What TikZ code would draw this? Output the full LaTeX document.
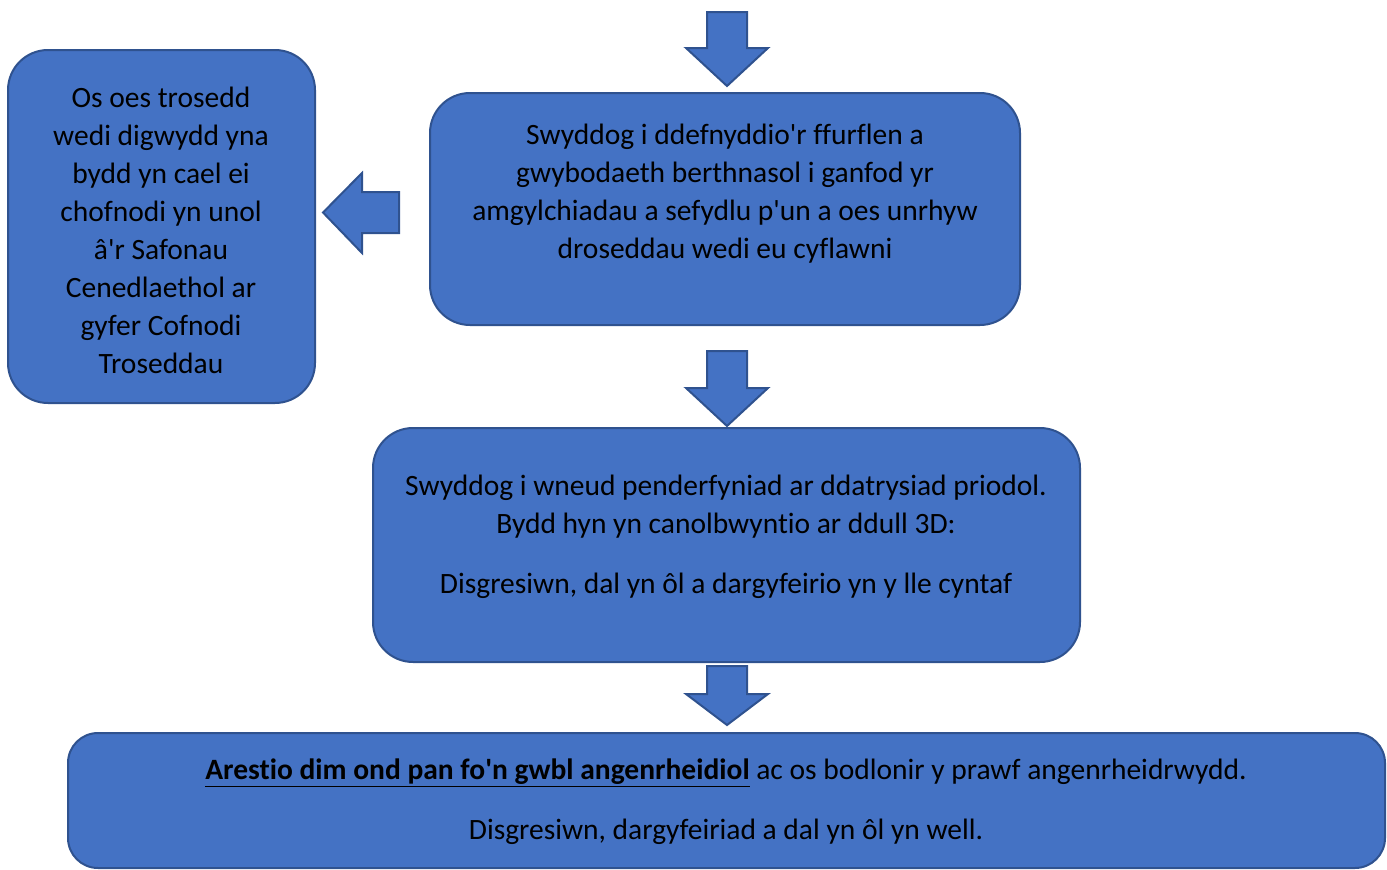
\documentclass[tikz,border=0pt]{standalone}
\usepackage{fontspec}
\setmainfont{Carlito}[Ligatures={NoCommon}]
\usepackage{tikz}

\definecolor{boxfill}{HTML}{4472C4}
\definecolor{boxline}{HTML}{2F528F}
\newcommand{\ap}{\textquotesingle}

\begin{document}
\begin{tikzpicture}
  [x=1pt,y=-1pt,
   flow box/.style={draw=boxline,fill=boxfill,line width=2pt,rounded corners=#1},
   flow box/.default=40pt,
   block arrow/.style={draw=boxline,fill=boxfill,line width=2pt,line join=miter},
   box text/.style={align=center,inner sep=0pt,font=\fontsize{29.5}{38}\selectfont}]

\useasboundingbox (0,0) rectangle (1387,870);

% boxes
\draw[flow box] (430,93) rectangle (1020,325);
\draw[flow box] (8,50) rectangle (315,403);
\draw[flow box] (373,428) rectangle (1080,662);
\draw[flow box=30pt] (68,733) rectangle (1385,868);

% texts
\node[box text] (ffurflen) at (725,194)
  {Swyddog i ddefnyddio\ap r ffurflen a\\ gwybodaeth berthnasol i ganfod yr\\
   amgylchiadau a sefydlu p\ap un a oes unrhyw\\ droseddau wedi eu cyflawni};
\node[box text] (cofnodi) at (161,230.5)
  {Os oes trosedd\\ wedi digwydd yna\\ bydd yn cael ei\\ chofnodi yn unol\\
   â\ap r Safonau\\ Cenedlaethol ar\\ gyfer Cofnodi\\ Troseddau};
\node[box text] (penderfyniad) at (726,537)
  {Swyddog i wneud penderfyniad ar ddatrysiad priodol.\\
   Bydd hyn yn canolbwyntio ar ddull 3D:\\[22pt]
   Disgresiwn, dal yn ôl a dargyfeirio yn y lle cyntaf};
\node[box text] (arestio) at (726,802)
  {\underline{\textbf{Arestio dim ond pan fo\ap n gwbl angenrheidiol}} ac os bodlonir y prawf angenrheidrwydd.\\[22pt]
   Disgresiwn, dargyfeiriad a dal yn ôl yn well.};

% block arrows
\foreach \ytop/\yhead/\ytip in {12/48/86, 351/388/426, 666/694/725}
  \draw[block arrow] (707,\ytop) -- (747,\ytop) -- (747,\yhead) -- (768,\yhead)
    -- (727,\ytip) -- (686,\yhead) -- (707,\yhead) -- cycle;

\draw[block arrow] (399,192) -- (362,192) -- (362,173) -- (323,212.5)
  -- (362,253) -- (362,233) -- (399,233) -- cycle;

\end{tikzpicture}
\end{document}
